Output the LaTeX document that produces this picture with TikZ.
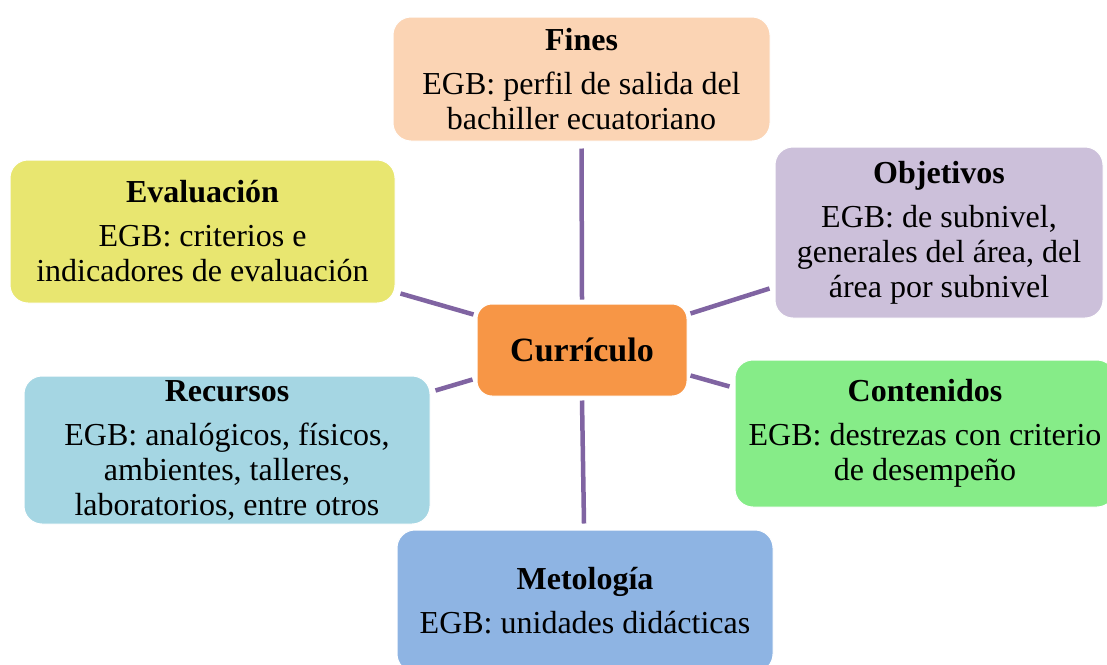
\documentclass[tikz,border=0pt]{standalone}
\usepackage{fontspec}
\setmainfont{Liberation Serif}
\definecolor{cfines}{HTML}{FBD4B4}
\definecolor{cobj}{HTML}{CCC0DA}
\definecolor{ceval}{HTML}{E8E670}
\definecolor{ccur}{HTML}{F79646}
\definecolor{crec}{HTML}{A5D6E3}
\definecolor{ccon}{HTML}{86EC88}
\definecolor{cmet}{HTML}{8EB4E3}
\definecolor{clink}{HTML}{8064A2}
\tikzset{
  box/.style={rounded corners=18pt, draw=white, line width=1pt, inner sep=0pt,
    align=center, font=\fontsize{32}{35}\selectfont},
  link/.style={draw=clink, line width=4.5pt}
}
\newcommand{\hd}[1]{\textbf{#1}\\[9pt]}
\begin{document}
\begin{tikzpicture}[x=1pt,y=-1pt]
\useasboundingbox (0,0) rectangle (1107,664);
\fill[white] (0,0) rectangle (1107,664);
\begin{scope}
\clip (0,0) rectangle (1107,664);
\node[box, fill=cfines, minimum width=377pt, minimum height=124pt] (fin) at (581.5,79)
  {\hd{Fines}EGB: perfil de salida del\\bachiller ecuatoriano};
\node[box, fill=cobj, minimum width=328pt, minimum height=171pt] (obj) at (939,232.5)
  {\hd{Objetivos}EGB: de subnivel,\\generales del área, del\\área por subnivel};
\node[box, fill=ceval, minimum width=385pt, minimum height=143pt] (eva) at (202.5,231.5)
  {\hd{Evaluación}EGB: criterios e\\indicadores de evaluación};
\node[box, fill=ccur, rounded corners=15pt, minimum width=210pt, minimum height=92pt,
  font=\fontsize{34}{38}\selectfont\bfseries] (cur) at (582,350) {Currículo};
\node[box, fill=crec, minimum width=406pt, minimum height=148pt] (rec) at (227,450)
  {\hd{Recursos}EGB: analógicos, físicos,\\ambientes, talleres,\\laboratorios, entre otros};
\node[box, fill=ccon, minimum width=380pt, minimum height=147pt] (con) at (925,433.5)
  {\hd{Contenidos}EGB: destrezas con criterio\\de desempeño};
\node[box, fill=cmet, minimum width=376pt, minimum height=142pt] (met) at (585,601)
  {\hd{Metología}EGB: unidades didácticas};
\end{scope}
\draw[link] ([shift={(0,7)}]fin.south) -- ([shift={(0,-4)}]cur.north);
\draw[link] ([shift={(0,4)}]cur.south) -- ([shift={(-1,-6)}]met.north);
\draw[link] ([shift={(3,10)}]cur.north east) -- ([shift={(-5,-30)}]obj.south west);
\draw[link] ([shift={(5,-10)}]eva.south east) -- ([shift={(-3,11)}]cur.north west);
\draw[link] ([shift={(5,15)}]rec.north east) -- ([shift={(-4,-17)}]cur.south west);
\draw[link] ([shift={(3,-21)}]cur.south east) -- ([shift={(-5,27)}]con.north west);
\end{tikzpicture}
\end{document}
